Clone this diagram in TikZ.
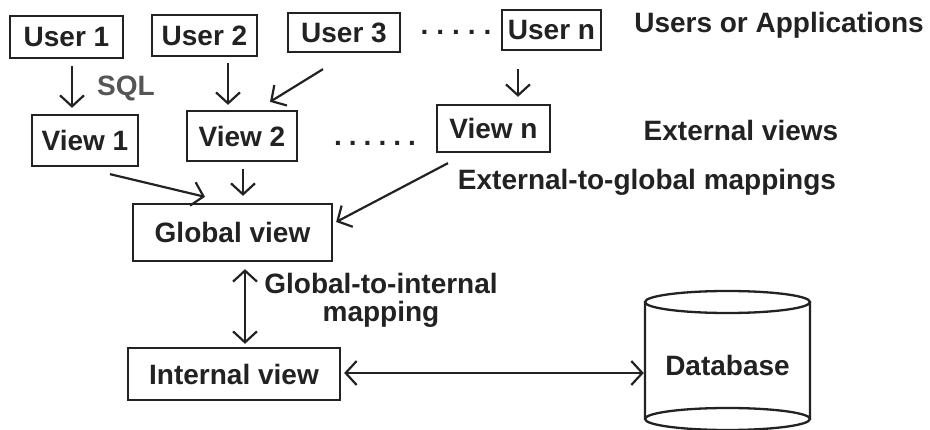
\documentclass[tikz,border=0pt]{standalone}
\usepackage{fontspec}
\setmainfont{Liberation Sans}
\usetikzlibrary{arrows.meta}
\definecolor{ink}{HTML}{222222}
\definecolor{soft}{HTML}{555555}
\begin{document}
\begin{tikzpicture}[x=1pt,y=-1pt,
  every node/.style={font=\fontsize{28}{30}\selectfont\bfseries, text=ink},
  box/.style={draw=ink, line width=2.3pt, inner sep=0pt},
  label/.style={inner sep=0pt},
  tip/.tip={Straight Barb[length=11pt,width=24pt]},
  arr/.style={draw=ink, line width=2.2pt, -tip},
  darr/.style={draw=ink, line width=2.2pt, tip-tip}]
\useasboundingbox (0,0) rectangle (930,430);

% users
\node[box, minimum width=113pt, minimum height=42pt] (user1) at (66.5,37) {User 1};
\node[box, minimum width=105pt, minimum height=41pt] (user2) at (204.5,35.5) {User 2};
\node[box, minimum width=112pt, minimum height=39pt] (user3) at (344,32.5) {User 3};
\node[box, minimum width=99pt, minimum height=40pt] (usern) at (551.5,30) {User n};
\node[label] (udots) at (456,32) {.\hspace{8pt}.\hspace{8pt}.\hspace{8pt}.\hspace{8pt}.};
\node[label] (ulabel) at (779,25) {Users or Applications};

% external views
\node[box, minimum width=106pt, minimum height=51pt] (view1) at (85,140.5) {View 1};
\node[box, minimum width=110pt, minimum height=50pt] (view2) at (242,136) {View 2};
\node[box, minimum width=113pt, minimum height=47pt] (viewn) at (493.5,128.5) {View n};
\node[label] (vdots) at (375,143) {.\hspace{7pt}.\hspace{7pt}.\hspace{7pt}.\hspace{7pt}.\hspace{7pt}.};
\node[label] (vlabel) at (741,130) {External views};
\node[label, text=soft] (sql) at (126,88) {SQL};
\node[label] (e2g) at (647,182) {External-to-global mappings};

% global and internal views
\node[box, minimum width=199pt, minimum height=57pt] (global) at (232.5,232.5) {Global view};
\node[box, minimum width=212pt, minimum height=52pt] (internal) at (234,374) {Internal view};
\node[label, align=center] (g2i) at (381,300) {Global-to-internal\\[-2pt]mapping};

% database cylinder
\node[inner sep=0pt, minimum width=165pt, minimum height=140pt] (db) at (727.5,365) {Database};
\draw[ink, line width=2.3pt]
  (645,302) -- (645,419) (810,302) -- (810,419)
  (727.5,302) ellipse [x radius=82.5pt, y radius=11pt]
  (727.5,419) ellipse [x radius=82.5pt, y radius=11pt];

% connectors
\draw[arr] ([xshift=5.5pt,yshift=-7pt]user1.south) -- ([xshift=-13pt,yshift=6pt]view1.north);
\draw[arr] ([xshift=23.5pt,yshift=-6pt]user2.south) -- ([xshift=-14pt,yshift=5pt]view2.north);
\draw[arr] ([xshift=-21pt,yshift=-16pt]user3.south) -- ([xshift=28pt,yshift=8pt]view2.north);
\draw[arr] ([xshift=-33.5pt,yshift=-18pt]usern.south) -- ([xshift=24.5pt,yshift=7pt]viewn.north);
\draw[arr] ([xshift=25pt,yshift=-7pt]view1.south) -- ([xshift=-27.5pt,yshift=6pt]global.north);
\draw[arr] ([xshift=1pt,yshift=-7pt]view2.south) -- ([xshift=10.5pt,yshift=7pt]global.north);
\draw[arr] ([xshift=-45.5pt,yshift=-10pt]viewn.south) -- ([xshift=3pt,yshift=10.5pt]global.east);
\draw[darr] ([xshift=12.5pt,yshift=-7pt]global.south) -- ([xshift=11pt,yshift=3pt]internal.north);
\draw[darr] ([xshift=3pt,yshift=1pt]internal.east) -- ([xshift=-1pt,yshift=1pt]db.west |- internal.east);
\end{tikzpicture}
\end{document}
